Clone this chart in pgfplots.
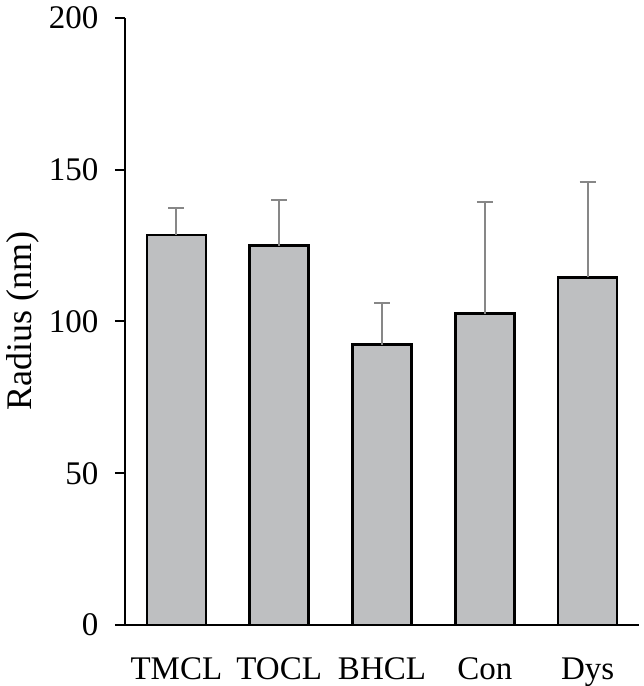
\documentclass[border=0pt]{standalone}
\usepackage{fontspec}
\setmainfont{Liberation Serif}
\usepackage{pgfplots}
\pgfplotsset{compat=1.18}
\definecolor{barfill}{RGB}{190,191,193}
\definecolor{errgray}{RGB}{135,135,135}

\begin{document}
\begin{tikzpicture}
\begin{axis}[
    name=ax,
    width=514pt, height=607pt, scale only axis,
    xmin=-0.5, xmax=4.5, ymin=0, ymax=200,
    axis x line*=bottom, axis y line*=left,
    axis line style={line width=2pt, black},
    xtick=data,
    xticklabels={TMCL, TOCL, BHCL, Con, Dys},
    xtick style={draw=none},
    ytick={0,50,100,150,200},
    ytick style={line width=2pt, black},
    tick align=outside,
    major tick length=10pt,
    /pgf/number format/assume math mode=true,
    tick label style={font=\fontsize{33}{39}\selectfont},
    yticklabel style={xshift=-13pt},
    xticklabel style={yshift=-19pt},
    ylabel={Radius (nm)},
    ylabel style={font=\fontsize{36}{42}\selectfont, yshift=3pt},
]
\addplot[ybar, bar width=59pt, fill=barfill, draw=black, line width=2.5pt,
    error bars/.cd, y dir=plus, y explicit,
    error bar style={line width=2pt, errgray},
    error mark options={rotate=90, line width=2pt, errgray, mark size=8pt}]
  table[x=x, y=y, y error=e] {
x y e
0 128.5 8.9
1 125.0 15.1
2 92.4 13.7
3 102.6 36.8
4 114.5 31.4
};
\end{axis}
\pgfresetboundingbox
\path[use as bounding box] ([shift={(-125pt,-61pt)}]ax.south west) rectangle ([shift={(4pt,18pt)}]ax.north east);
\end{tikzpicture}
\end{document}
